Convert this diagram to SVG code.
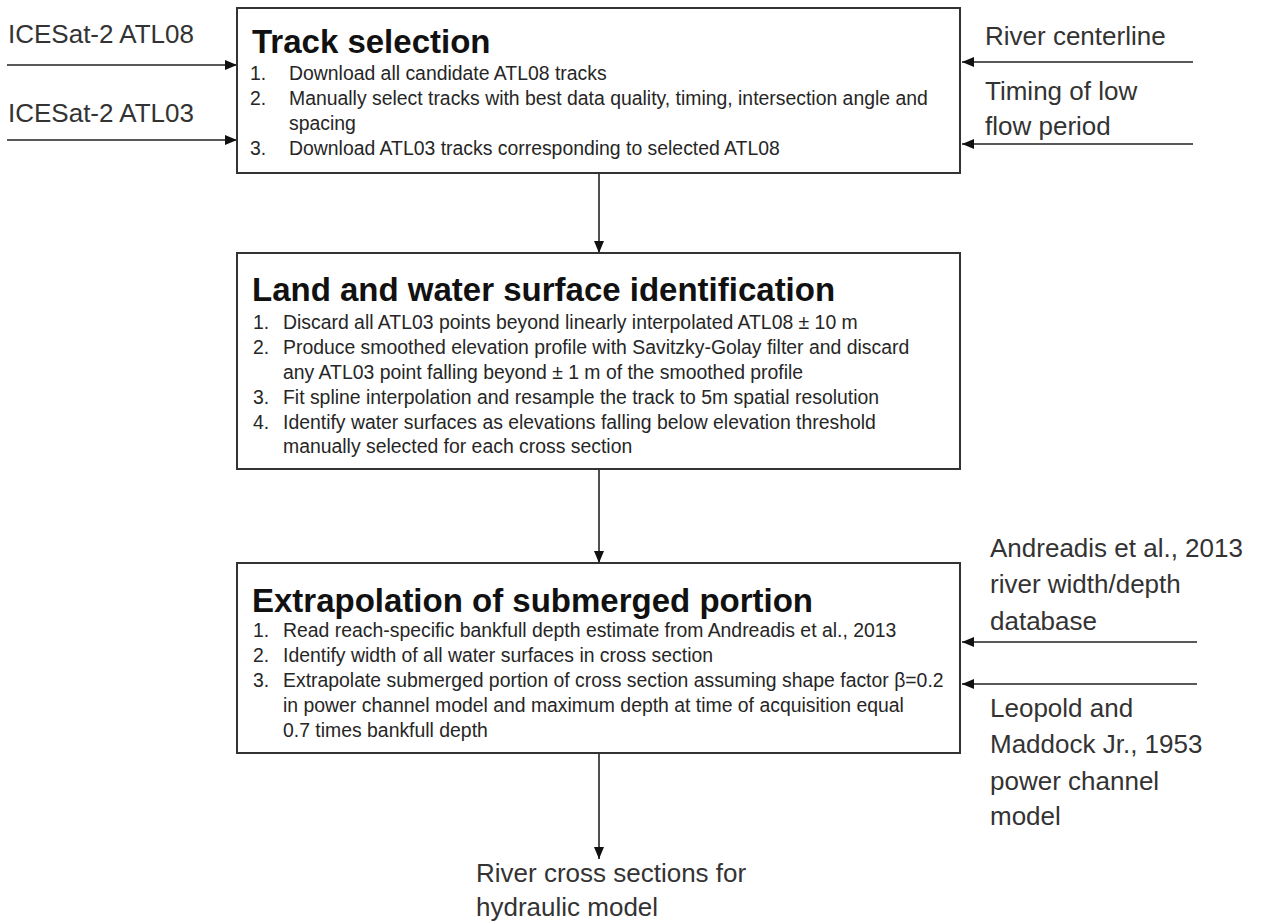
<svg xmlns="http://www.w3.org/2000/svg" width="1263" height="922" viewBox="0 0 1263 922">
<style>
.box{fill:#fff;stroke:#333;stroke-width:2}
.title{font-family:"Liberation Sans",Arial,sans-serif;font-weight:bold;font-size:33px;fill:#111}
.body{font-family:"Liberation Sans",Arial,sans-serif;font-size:19.4px;fill:#262626}
.lbl{font-family:"Liberation Sans",Arial,sans-serif;font-size:26px;fill:#333}
.conn{stroke:#222;stroke-width:1.6;fill:none}
</style>
<defs>
<marker id="ah" viewBox="0 0 12 10" refX="12" refY="5" markerWidth="12" markerHeight="10" markerUnits="userSpaceOnUse" orient="auto">
<path d="M0,0 L12,5 L0,10 Z" fill="#111"/>
</marker>
</defs>
<rect width="1263" height="922" fill="#fff"/>

<g id="connectors">
<line class="conn" x1="7" y1="65" x2="237" y2="65" marker-end="url(#ah)"/>
<line class="conn" x1="7" y1="140" x2="237" y2="140" marker-end="url(#ah)"/>
<line class="conn" x1="1193" y1="62" x2="962" y2="62" marker-end="url(#ah)"/>
<line class="conn" x1="1193" y1="144" x2="962" y2="144" marker-end="url(#ah)"/>
<line class="conn" x1="599" y1="173" x2="599" y2="253" marker-end="url(#ah)"/>
<line class="conn" x1="599" y1="469" x2="599" y2="563" marker-end="url(#ah)"/>
<line class="conn" x1="1197" y1="642" x2="962" y2="642" marker-end="url(#ah)"/>
<line class="conn" x1="1197" y1="684" x2="962" y2="684" marker-end="url(#ah)"/>
<line class="conn" x1="599" y1="753" x2="599" y2="859" marker-end="url(#ah)"/>
</g>

<g id="in-atl08"><text class="lbl" x="8" y="43">ICESat-2 ATL08</text></g>
<g id="in-atl03"><text class="lbl" x="8" y="122">ICESat-2 ATL03</text></g>
<g id="in-centerline"><text class="lbl" x="985" y="45">River centerline</text></g>
<g id="in-timing"><text class="lbl" x="985" y="100">Timing of low</text><text class="lbl" x="985" y="135">flow period</text></g>

<g id="track-selection">
<rect class="box" x="237" y="8" width="723" height="165"/>
<text class="title" x="252" y="53">Track selection</text>
<text class="body" x="250" y="80">1.</text><text class="body" x="289" y="80">Download all candidate ATL08 tracks</text>
<text class="body" x="250" y="105">2.</text><text class="body" x="289" y="105">Manually select tracks with best data quality, timing, intersection angle and</text>
<text class="body" x="289" y="130">spacing</text>
<text class="body" x="250" y="155">3.</text><text class="body" x="289" y="155">Download ATL03  tracks corresponding to selected  ATL08</text>
</g>

<g id="land-water">
<rect class="box" x="237" y="253" width="723" height="216"/>
<text class="title" x="252" y="301">Land and water surface identification</text>
<text class="body" x="253" y="329">1.</text><text class="body" x="283" y="329">Discard all ATL03 points beyond linearly interpolated ATL08 ± 10 m</text>
<text class="body" x="253" y="354">2.</text><text class="body" x="283" y="354">Produce smoothed  elevation profile with Savitzky-Golay filter and discard</text>
<text class="body" x="283" y="379">any ATL03  point falling beyond ± 1 m of the smoothed profile</text>
<text class="body" x="253" y="404">3.</text><text class="body" x="283" y="404">Fit spline interpolation and resample the track to 5m spatial resolution</text>
<text class="body" x="253" y="429">4.</text><text class="body" x="283" y="429">Identify water surfaces as elevations falling below elevation threshold</text>
<text class="body" x="283" y="453">manually selected for each cross section</text>
</g>

<g id="extrapolation">
<rect class="box" x="237" y="563" width="723" height="190"/>
<text class="title" x="252" y="612">Extrapolation of submerged portion</text>
<text class="body" x="253" y="637">1.</text><text class="body" x="283" y="637">Read reach-specific bankfull depth estimate from Andreadis et al., 2013</text>
<text class="body" x="253" y="662">2.</text><text class="body" x="283" y="662">Identify width of all water surfaces in cross section</text>
<text class="body" x="253" y="687">3.</text><text class="body" x="283" y="687">Extrapolate submerged portion of cross section assuming shape factor β=0.2</text>
<text class="body" x="283" y="712">in power channel model and maximum depth at time of acquisition equal</text>
<text class="body" x="283" y="737">0.7 times bankfull depth</text>
</g>

<g id="in-andreadis">
<text class="lbl" x="990" y="557">Andreadis et al., 2013</text>
<text class="lbl" x="990" y="593">river width/depth</text>
<text class="lbl" x="990" y="630">database</text>
</g>
<g id="in-leopold">
<text class="lbl" x="990" y="717">Leopold and</text>
<text class="lbl" x="990" y="753">Maddock Jr., 1953</text>
<text class="lbl" x="990" y="790">power channel</text>
<text class="lbl" x="990" y="825">model</text>
</g>

<g id="output">
<text class="lbl" x="476" y="882">River cross sections for</text>
<text class="lbl" x="476" y="916">hydraulic model</text>
</g>
</svg>
